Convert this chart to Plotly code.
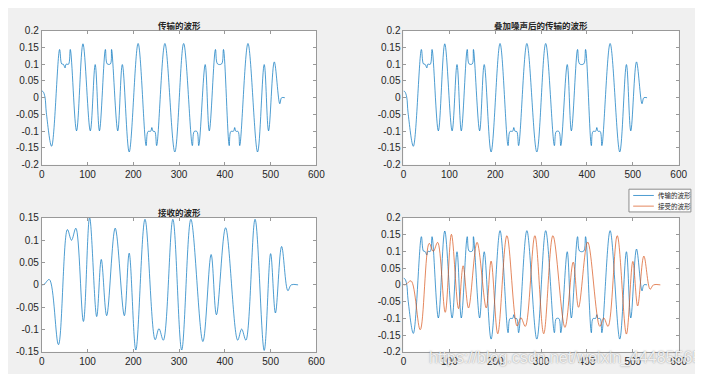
import plotly.graph_objects as go

W, H = 703, 374

# ---------------- data ----------------
tx_x = [0, 3, 7, 10, 21.5, 39, 43.5, 47, 51, 53, 58.5, 62.3, 76, 90, 106, 116.7, 126,
        139, 143, 150, 152.5, 166, 176, 191, 210.5, 228, 232, 238, 240.5, 243, 247, 251,
        269, 290.7, 310, 329, 333, 339, 343, 357, 366, 379.5, 384, 393, 397, 409.5,
        413, 419, 421.5, 424, 429, 432.5, 450.5, 471.5, 486, 495.5, 508, 520, 524, 531]
tx_y = [0.020, 0.018, 0.002, -0.045, -0.145, 0.144, 0.101, 0.100, 0.089, 0.100, 0.100, 0.144,
        -0.099, 0.161, -0.099, 0.099, -0.099,
        0.144, 0.101, 0.101, 0.144, -0.099, 0.099, -0.162, 0.162, -0.143, -0.101, -0.100,
        -0.089, -0.100, -0.101, -0.143,
        0.162, -0.162, 0.162, -0.143, -0.101, -0.101, -0.143, 0.099, -0.099, 0.144, 0.101,
        0.101, 0.144, -0.143,
        -0.101, -0.100, -0.089, -0.100, -0.101, -0.143, 0.162, -0.162, 0.099, -0.099, 0.107,
        -0.018, 0.0, 0.0]

rx_x = [0, 5, 16.5, 36.5, 56, 65, 74.5, 91, 104.5, 120, 130, 141.8, 160.4, 180.4, 191,
        205.5, 225.5, 247.7, 256, 265.6, 286.4, 305.7, 325.8, 352, 370, 381.6, 401.6,
        428, 436.7, 446, 466, 486, 500, 510.5, 524, 537.7, 545, 560]
rx_y = [0.0, 0.001, 0.012, -0.134, 0.124, 0.100, 0.127, -0.082, 0.151, -0.071, 0.057, -0.069,
        0.127, -0.069, 0.071,
        -0.146, 0.147, -0.123, -0.098, -0.124, 0.147, -0.146, 0.147, -0.127, 0.068, -0.067, 0.128,
        -0.124, -0.099, -0.124, 0.147, -0.147, 0.070, -0.063, 0.086, -0.013, 0.0, 0.0]

x_ticks = [0, 100, 200, 300, 400, 500, 600]
x_ticktext = ["0", "100", "200", "300", "400", "500", "600"]
y_ticks_a = [-0.2, -0.15, -0.1, -0.05, 0, 0.05, 0.1, 0.15, 0.2]
y_ticktext_a = ["-0.2", "-0.15", "-0.1", "-0.05", "0", "0.05", "0.1", "0.15", "0.2"]
y_ticks_b = [-0.15, -0.1, -0.05, 0, 0.05, 0.1, 0.15]
y_ticktext_b = ["-0.15", "-0.1", "-0.05", "0", "0.05", "0.1", "0.15"]

titles = ["传输的波形", "叠加噪声后的传输的波形", "接收的波形"]
legend_names = ["传输的波形", "接受的波形"]
watermark = "https://blog.csdn.net/weixin_44485565"

BLUE = "#0072BD"
ORANGE = "#D95319"
LW = 0.7

# ---------------- layout geometry (pixels) ----------------
boxes = {
    1: (31.3, 310.7, 17.3, 155.7),
    2: (399.3, 679.3, 17.3, 155.7),
    3: (31.3, 310.7, 210.7, 349.0),
    4: (399.3, 679.3, 210.7, 349.0),
}

def px(x):
    return x / W

def py(y):
    return 1 - y / H

fig = go.Figure()

def add(i, x, y, color, name=None):
    xa = "x" if i == 1 else f"x{i}"
    ya = "y" if i == 1 else f"y{i}"
    fig.add_trace(go.Scatter(x=x, y=y, mode="lines", xaxis=xa, yaxis=ya,
                             line=dict(color=color, width=LW, shape="spline", smoothing=1.0),
                             name=name, showlegend=False))

add(1, tx_x, tx_y, BLUE)
add(2, tx_x, tx_y, BLUE)
add(3, rx_x, rx_y, BLUE)
add(4, tx_x, tx_y, BLUE, legend_names[0])
add(4, rx_x, rx_y, ORANGE, legend_names[1])

tickfont = dict(family="Liberation Sans, Arial", size=10, color="#262626")
axcommon = dict(showgrid=False, zeroline=False, showline=True, linecolor="#999999",
                linewidth=1, mirror="ticks", ticks="inside", ticklen=3,
                tickcolor="#999999", tickfont=tickfont)

layout = {}
for i, (l, r, t, b) in boxes.items():
    xk = "xaxis" if i == 1 else f"xaxis{i}"
    yk = "yaxis" if i == 1 else f"yaxis{i}"
    ya = "y" if i == 1 else f"y{i}"
    xa = "x" if i == 1 else f"x{i}"
    layout[xk] = dict(domain=[px(l), px(r)], anchor=ya, range=[0, 600],
                      tickvals=x_ticks, ticktext=x_ticktext, **axcommon)
    if i == 3:
        yr, tv, tt = [-0.15, 0.15], y_ticks_b, y_ticktext_b
    else:
        yr, tv, tt = [-0.2, 0.2], y_ticks_a, y_ticktext_a
    layout[yk] = dict(domain=[py(b), py(t)], anchor=xa, range=yr,
                      tickvals=tv, ticktext=tt, **axcommon)

annotations = []
for i, title in zip([1, 2, 3], titles):
    l, r, t, b = boxes[i]
    annotations.append(dict(text=f"<b>{title}</b>", x=px((l + r) / 2), y=py(t - 6),
                            xref="paper", yref="paper", xanchor="center", yanchor="middle",
                            showarrow=False,
                            font=dict(family="Noto Sans CJK SC", size=8.5, color="#262626")))

# legend drawn as a box with sample lines and labels
LEG_L, LEG_R, LEG_T, LEG_B = 628.7, 691.7, 181.0, 204.5
shapes = [dict(type="rect", xref="paper", yref="paper",
               x0=px(LEG_L), x1=px(LEG_R), y0=py(LEG_B), y1=py(LEG_T),
               line=dict(color="#8c8c8c", width=1), fillcolor="#ffffff", layer="above")]
for name, color, yy in zip(legend_names, [BLUE, ORANGE], [187.5, 198.5]):
    shapes.append(dict(type="line", xref="paper", yref="paper",
                       x0=px(633), x1=px(654), y0=py(yy), y1=py(yy),
                       line=dict(color=color, width=LW), layer="above"))
    annotations.append(dict(text=name, x=px(656.5), y=py(yy), xref="paper", yref="paper",
                            xanchor="left", yanchor="middle", showarrow=False,
                            font=dict(family="Noto Sans CJK SC", size=6.5, color="#262626")))

annotations.append(dict(text=watermark, x=px(423), y=py(355), xref="paper", yref="paper",
                        xanchor="left", yanchor="middle", showarrow=False,
                        font=dict(family="Liberation Sans, Arial", size=16,
                                  color="rgba(255,255,255,0.85)",
                                  shadow="0px 0px 1.5px rgba(90,90,90,0.85)")))

fig.update_layout(
    width=W, height=H, margin=dict(l=0, r=0, t=0, b=0),
    paper_bgcolor="#f0f0f0", plot_bgcolor="#ffffff",
    annotations=annotations, shapes=shapes,
    showlegend=False,
    **layout,
)

fig.write_html("out.html")
